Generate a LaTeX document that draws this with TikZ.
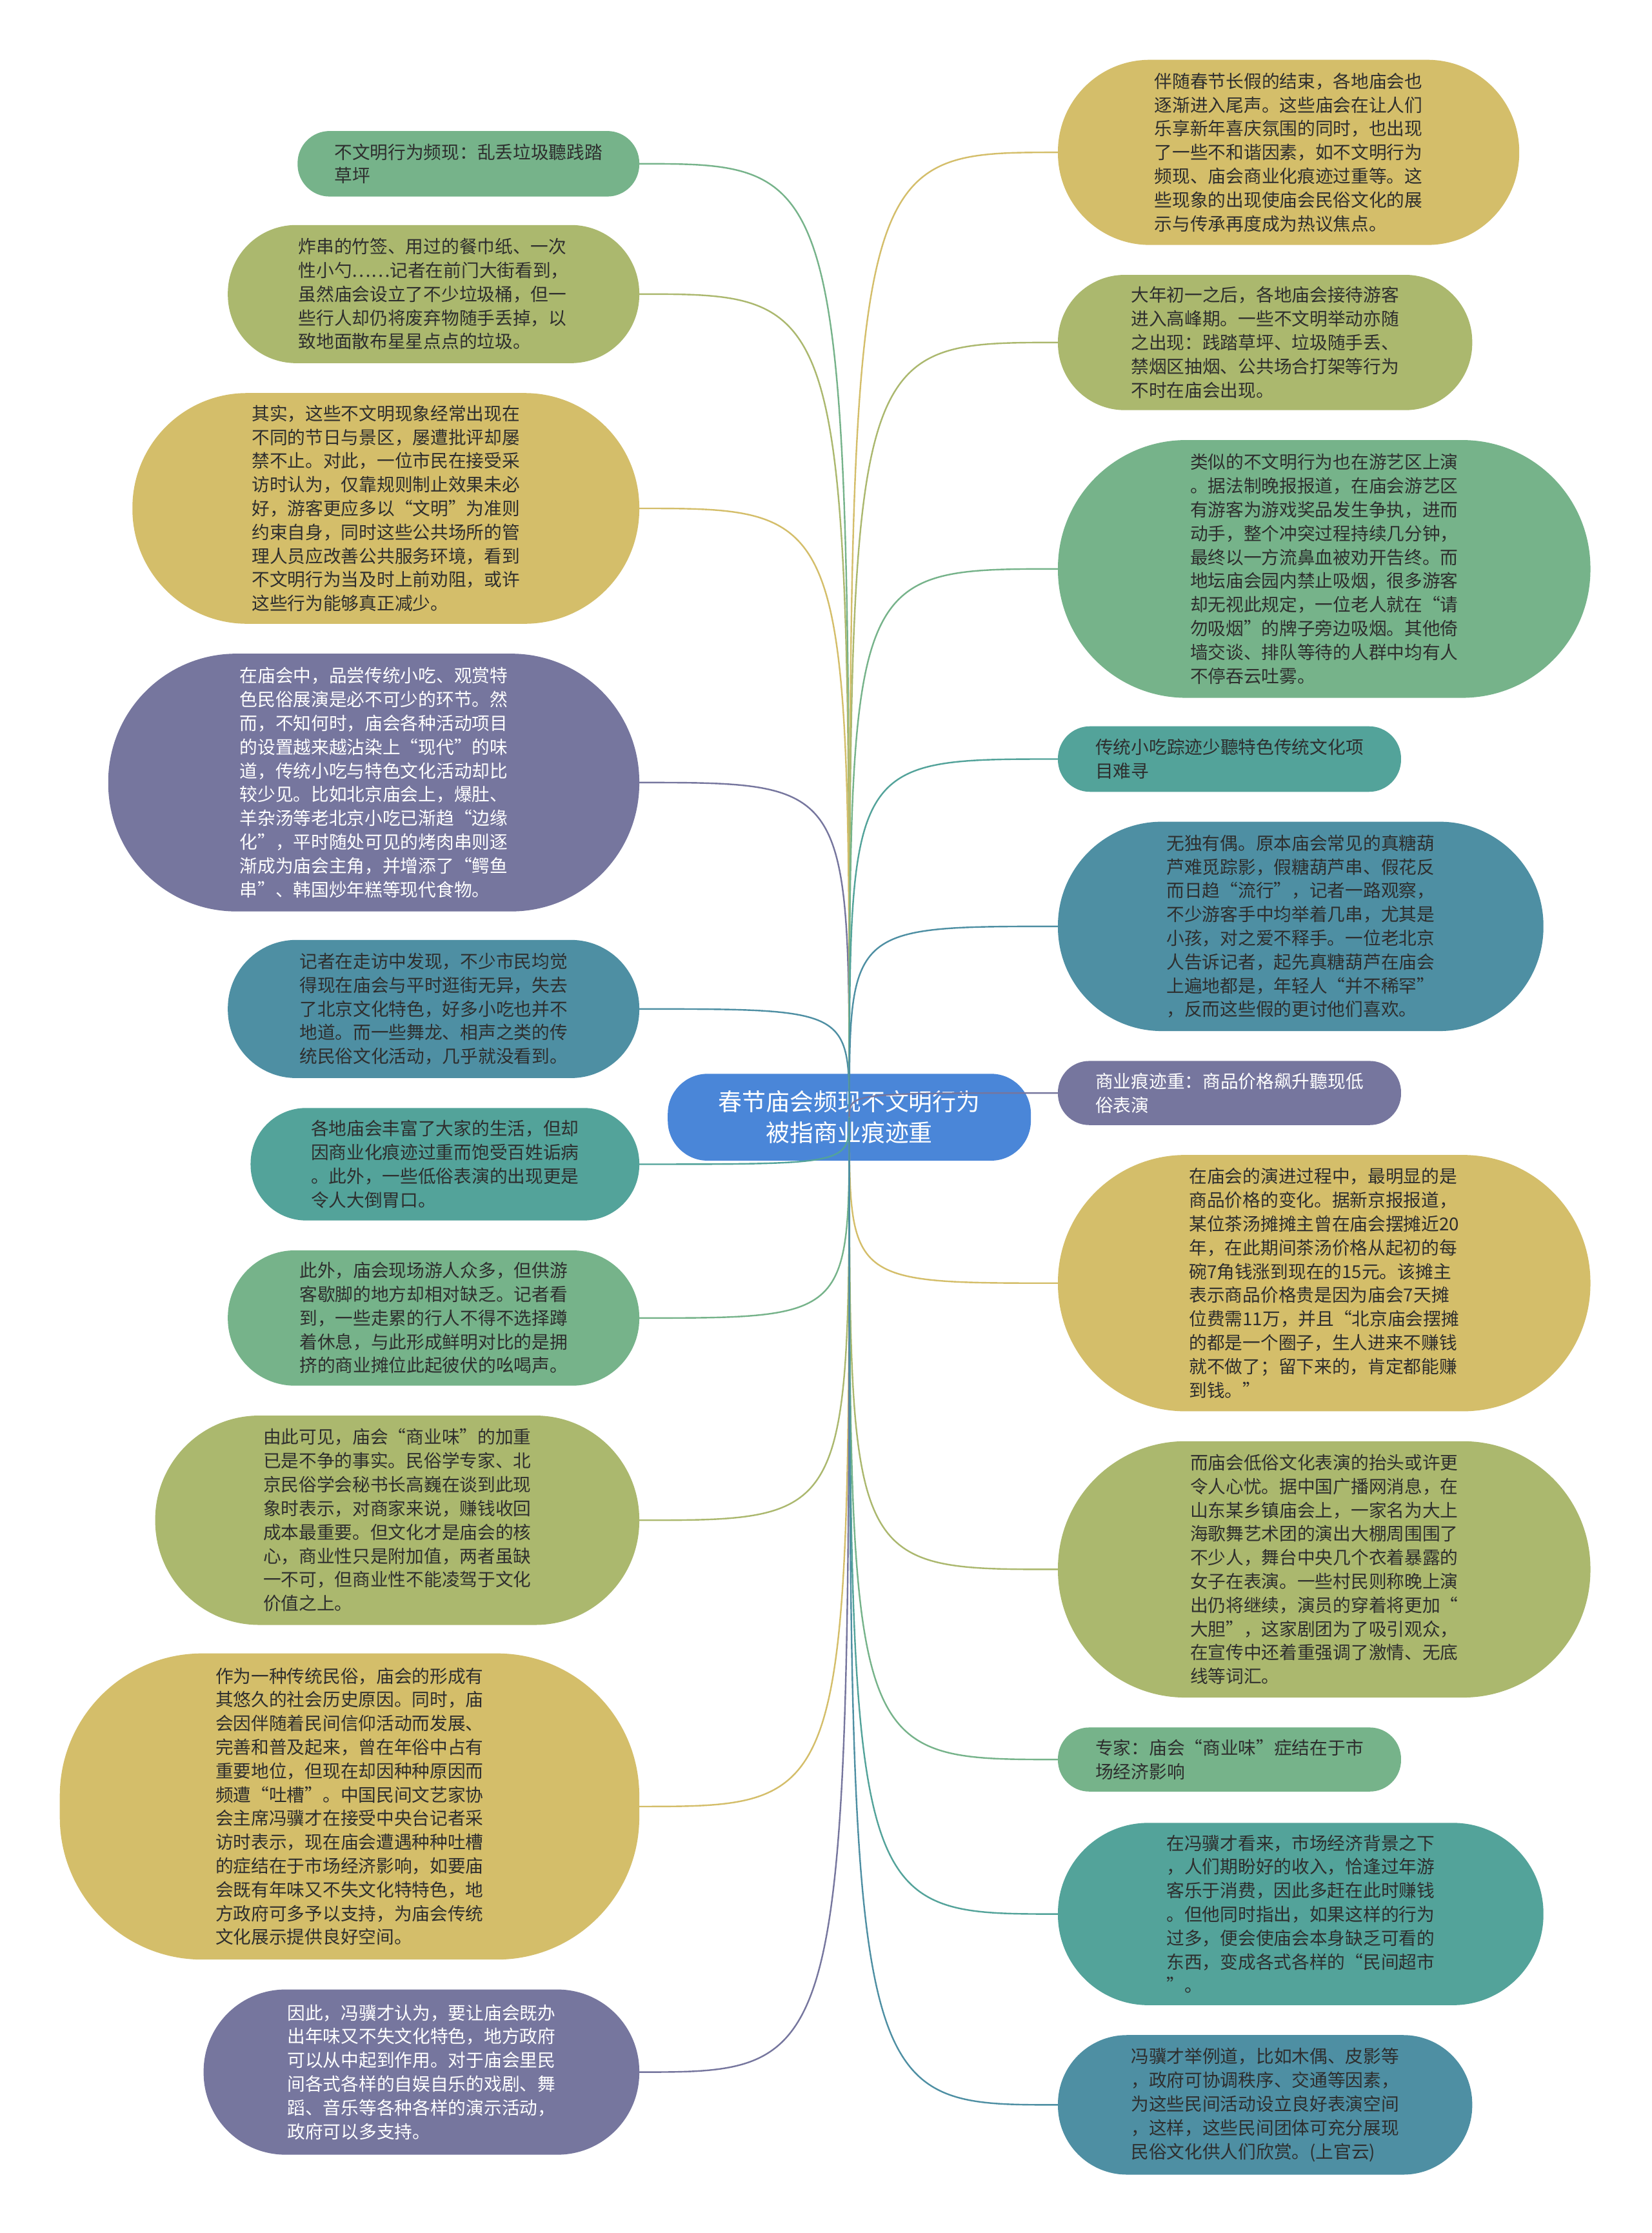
\documentclass[tikz,border=0pt]{standalone}
\usepackage{fontspec}
\setmainfont{Noto Sans CJK SC}
\definecolor{cGreen}{HTML}{76B38A}
\definecolor{cOlive}{HTML}{ABB86E}
\definecolor{cYellow}{HTML}{D4BE6A}
\definecolor{cPurple}{HTML}{76769E}
\definecolor{cBlueTeal}{HTML}{4E8FA3}
\definecolor{cTeal}{HTML}{53A39A}
\definecolor{cCenter}{HTML}{4A86D8}
\definecolor{cText}{HTML}{2E2E2E}
\newcommand\myu{2.207pt}
\newcommand\mnode[7]{\node[box,#6,minimum width={#4*\myu},minimum height={#5*\myu},rounded corners={min(#5/2-0.5,100)*\myu}] (#1) at (#2,#3) {#7};}
\newcommand\conL[2]{\draw[conn,#2] (C.center) .. controls (C.center |- #1.east) .. (#1.east);}
\newcommand\conR[2]{\draw[conn,#2] (C.center) .. controls (C.center |- #1.west) .. (#1.west);}
\tikzset{
  box/.style={inner sep=0pt, outer sep=0pt, align=left, font=\fontsize{27.7pt}{36.8pt}\selectfont, text=cText},
  gN/.style={fill=cGreen}, oN/.style={fill=cOlive}, yN/.style={fill=cYellow},
  pN/.style={fill=cPurple, text=white}, bN/.style={fill=cBlueTeal}, tN/.style={fill=cTeal},
  conn/.style={line width=2.4pt}
}
\begin{document}
\begin{tikzpicture}[x=2.207pt,y=-2.207pt]
\useasboundingbox[fill=white] (0,0) rectangle (1160,1568);
% centre
\node[inner sep=0pt, fill=cCenter, minimum width={255*\myu}, minimum height={61*\myu}, rounded corners={28*\myu}, align=center, text=white, font=\fontsize{36.9pt}{48.5pt}\selectfont] (C) at (596.5,784.5) {春节庙会频现不文明行为\\被指商业痕迹重};
% left column
\mnode{L1}{329}{115}{240}{46}{gN}{不文明行为频现：乱丢垃圾聽践踏\\草坪}
\mnode{L2}{304.5}{206.5}{289}{97}{oN}{炸串的竹签、用过的餐巾纸、一次\\性小勺……记者在前门大街看到，\\虽然庙会设立了不少垃圾桶，但一\\些行人却仍将废弃物随手丢掉，以\\致地面散布星星点点的垃圾。}
\mnode{L3}{271}{357}{356}{162}{yN}{其实，这些不文明现象经常出现在\\不同的节日与景区，屡遭批评却屡\\禁不止。对此，一位市民在接受采\\访时认为，仅靠规则制止效果未必\\好，游客更应多以“文明”为准则\\约束自身，同时这些公共场所的管\\理人员应改善公共服务环境，看到\\不文明行为当及时上前劝阻，或许\\这些行为能够真正减少。}
\mnode{L4}{262.5}{549.5}{373}{181}{pN}{在庙会中，品尝传统小吃、观赏特\\色民俗展演是必不可少的环节。然\\而，不知何时，庙会各种活动项目\\的设置越来越沾染上“现代”的味\\道，传统小吃与特色文化活动却比\\较少见。比如北京庙会上，爆肚、\\羊杂汤等老北京小吃已渐趋“边缘\\化”，平时随处可见的烤肉串则逐\\渐成为庙会主角，并增添了“鳄鱼\\串”、韩国炒年糕等现代食物。}
\mnode{L5}{304.5}{708.5}{289}{97}{bN}{记者在走访中发现，不少市民均觉\\得现在庙会与平时逛街无异，失去\\了北京文化特色，好多小吃也并不\\地道。而一些舞龙、相声之类的传\\统民俗文化活动，几乎就没看到。}
\mnode{L6}{312.5}{817.5}{273}{79}{tN}{各地庙会丰富了大家的生活，但却\\因商业化痕迹过重而饱受百姓诟病\\。此外，一些低俗表演的出现更是\\令人大倒胃口。}
\mnode{L7}{304.5}{925.5}{289}{95}{gN}{此外，庙会现场游人众多，但供游\\客歇脚的地方却相对缺乏。记者看\\到，一些走累的行人不得不选择蹲\\着休息，与此形成鲜明对比的是拥\\挤的商业摊位此起彼伏的吆喝声。}
\mnode{L8}{279}{1067.5}{340}{147}{oN}{由此可见，庙会“商业味”的加重\\已是不争的事实。民俗学专家、北\\京民俗学会秘书长高巍在谈到此现\\象时表示，对商家来说，赚钱收回\\成本最重要。但文化才是庙会的核\\心，商业性只是附加值，两者虽缺\\一不可，但商业性不能凌驾于文化\\价值之上。}
\mnode{L9}{245.5}{1268.5}{407}{215}{yN}{作为一种传统民俗，庙会的形成有\\其悠久的社会历史原因。同时，庙\\会因伴随着民间信仰活动而发展、\\完善和普及起来，曾在年俗中占有\\重要地位，但现在却因种种原因而\\频遭“吐槽”。中国民间文艺家协\\会主席冯骥才在接受中央台记者采\\访时表示，现在庙会遭遇种种吐槽\\的症结在于市场经济影响，如要庙\\会既有年味又不失文化特特色，地\\方政府可多予以支持，为庙会传统\\文化展示提供良好空间。}
\mnode{L10}{296}{1455}{306}{116}{pN}{因此，冯骥才认为，要让庙会既办\\出年味又不失文化特色，地方政府\\可以从中起到作用。对于庙会里民\\间各式各样的自娱自乐的戏剧、舞\\蹈、音乐等各种各样的演示活动，\\政府可以多支持。}
% right column
\mnode{R1}{905}{107}{324}{130}{yN}{伴随春节长假的结束，各地庙会也\\逐渐进入尾声。这些庙会在让人们\\乐享新年喜庆氛围的同时，也出现\\了一些不和谐因素，如不文明行为\\频现、庙会商业化痕迹过重等。这\\些现象的出现使庙会民俗文化的展\\示与传承再度成为热议焦点。}
\mnode{R2}{888.5}{240.5}{291}{95}{oN}{大年初一之后，各地庙会接待游客\\进入高峰期。一些不文明举动亦随\\之出现：践踏草坪、垃圾随手丢、\\禁烟区抽烟、公共场合打架等行为\\不时在庙会出现。}
\mnode{R3}{930}{399.5}{374}{181}{gN}{类似的不文明行为也在游艺区上演\\。据法制晚报报道，在庙会游艺区\\有游客为游戏奖品发生争执，进而\\动手，整个冲突过程持续几分钟，\\最终以一方流鼻血被劝开告终。而\\地坛庙会园内禁止吸烟，很多游客\\却无视此规定，一位老人就在“请\\勿吸烟”的牌子旁边吸烟。其他倚\\墙交谈、排队等待的人群中均有人\\不停吞云吐雾。}
\mnode{R4}{863.5}{533}{241}{46}{tN}{传统小吃踪迹少聽特色传统文化项\\目难寻}
\mnode{R5}{913.5}{650.5}{341}{147}{bN}{无独有偶。原本庙会常见的真糖葫\\芦难觅踪影，假糖葫芦串、假花反\\而日趋“流行”，记者一路观察，\\不少游客手中均举着几串，尤其是\\小孩，对之爱不释手。一位老北京\\人告诉记者，起先真糖葫芦在庙会\\上遍地都是，年轻人“并不稀罕”\\，反而这些假的更讨他们喜欢。}
\mnode{R6}{863.5}{767.5}{241}{45}{pN}{商业痕迹重：商品价格飙升聽现低\\俗表演}
\mnode{R7}{930}{901}{374}{180}{yN}{在庙会的演进过程中，最明显的是\\商品价格的变化。据新京报报道，\\某位茶汤摊摊主曾在庙会摆摊近20\\年，在此期间茶汤价格从起初的每\\碗7角钱涨到现在的15元。该摊主\\表示商品价格贵是因为庙会7天摊\\位费需11万，并且“北京庙会摆摊\\的都是一个圈子，生人进来不赚钱\\就不做了；留下来的，肯定都能赚\\到钱。”}
\mnode{R8}{930}{1102}{374}{180}{oN}{而庙会低俗文化表演的抬头或许更\\令人心忧。据中国广播网消息，在\\山东某乡镇庙会上，一家名为大上\\海歌舞艺术团的演出大棚周围围了\\不少人，舞台中央几个衣着暴露的\\女子在表演。一些村民则称晚上演\\出仍将继续，演员的穿着将更加“\\大胆”，这家剧团为了吸引观众，\\在宣传中还着重强调了激情、无底\\线等词汇。}
\mnode{R9}{863.5}{1235.5}{241}{45}{gN}{专家：庙会“商业味”症结在于市\\场经济影响}
\mnode{R10}{913.5}{1344}{341}{128}{tN}{在冯骥才看来，市场经济背景之下\\，人们期盼好的收入，恰逢过年游\\客乐于消费，因此多赶在此时赚钱\\。但他同时指出，如果这样的行为\\过多，便会使庙会本身缺乏可看的\\东西，变成各式各样的“民间超市\\”。}
\mnode{R11}{888.5}{1478}{291}{98}{bN}{冯骥才举例道，比如木偶、皮影等\\，政府可协调秩序、交通等因素，\\为这些民间活动设立良好表演空间\\，这样，这些民间团体可充分展现\\民俗文化供人们欣赏。(上官云)}
% connectors
\conL{L1}{cGreen}
\conL{L2}{cOlive}
\conL{L3}{cYellow}
\conL{L4}{cPurple}
\conL{L5}{cBlueTeal}
\conL{L6}{cTeal}
\conL{L7}{cGreen}
\conL{L8}{cOlive}
\conL{L9}{cYellow}
\conL{L10}{cPurple}
\conR{R1}{cYellow}
\conR{R2}{cOlive}
\conR{R3}{cGreen}
\conR{R4}{cTeal}
\conR{R5}{cBlueTeal}
\conR{R6}{cPurple}
\conR{R7}{cYellow}
\conR{R8}{cOlive}
\conR{R9}{cGreen}
\conR{R10}{cTeal}
\conR{R11}{cBlueTeal}
\end{tikzpicture}
\end{document}
